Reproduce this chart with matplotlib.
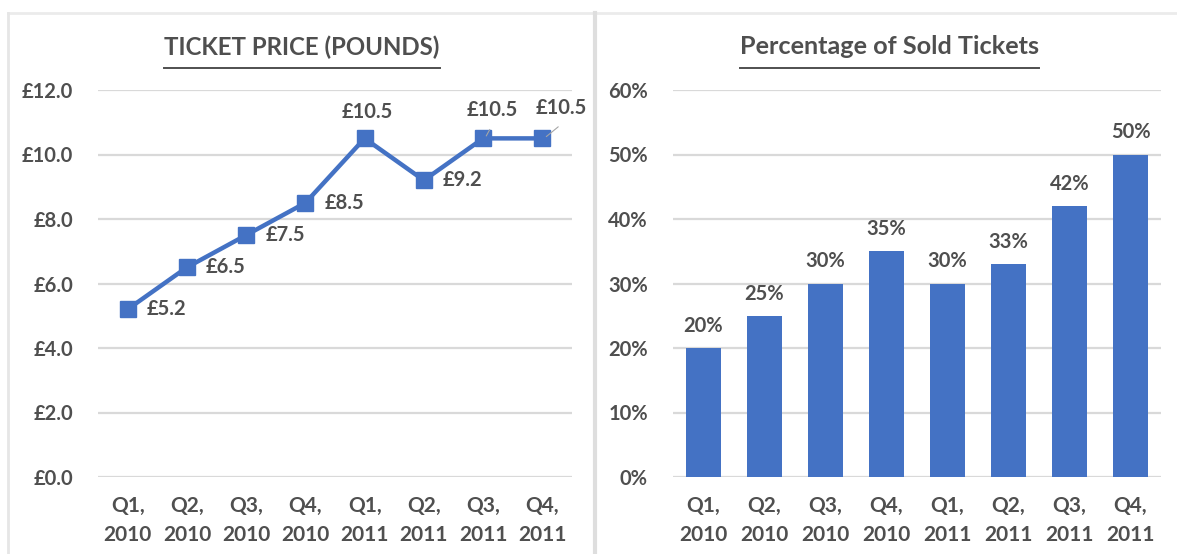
import matplotlib
matplotlib.use("Agg")
import matplotlib.pyplot as plt
from matplotlib.lines import Line2D

plt.rcParams['font.family'] = ['Lato', 'DejaVu Sans']
plt.rcParams['font.weight'] = 'bold'

# Data
quarters = ["Q1,\n2010", "Q2,\n2010", "Q3,\n2010", "Q4,\n2010",
            "Q1,\n2011", "Q2,\n2011", "Q3,\n2011", "Q4,\n2011"]
ticket_price = [5.2, 6.5, 7.5, 8.5, 10.5, 9.2, 10.5, 10.5]
sold_pct = [20, 25, 30, 35, 30, 33, 42, 50]
price_ticks = [0, 2, 4, 6, 8, 10, 12]
pct_ticks = [0, 10, 20, 30, 40, 50, 60]

BLUE = "#4472C4"
TEXT = "#4F4F4F"
GRID = "#D9D9D9"
FS = 14.5

W, H = 1177, 554
fig = plt.figure(figsize=(W / 100, H / 100), dpi=100)
fig.patch.set_facecolor("white")


def px_axes(x0, x1, ytop, ybot):
    return fig.add_axes([x0 / W, (H - ybot) / H, (x1 - x0) / W, (ybot - ytop) / H])


def style(ax):
    for s in ax.spines.values():
        s.set_visible(False)
    ax.tick_params(axis="both", length=0, labelsize=FS, labelcolor=TEXT)
    ax.tick_params(axis="y", pad=18)
    ax.tick_params(axis="x", pad=13.5, labelsize=15)
    ax.yaxis.grid(True, color=GRID, linewidth=1.6)
    ax.set_axisbelow(True)
    for lab in ax.get_xticklabels() + ax.get_yticklabels():
        lab.set_fontweight("bold")
    for lab in ax.get_xticklabels():
        lab.set_linespacing(1.6)


# Panel frames
fig.add_artist(Line2D([8 / W, 1], [1 - 13 / H] * 2, color="#EBEBEB", lw=2))
fig.add_artist(Line2D([8 / W] * 2, [0, 1 - 13 / H], color="#E6E6E6", lw=2))
fig.add_artist(Line2D([595 / W] * 2, [0, 1 - 13 / H], color="#DEDEDE", lw=3))

# Left: ticket price line chart
ax1 = px_axes(98, 572, 90, 477)
x = list(range(len(quarters)))
ax1.plot(x, ticket_price, color=BLUE, lw=3.2, marker="s", markersize=12,
         solid_joinstyle="miter")
ax1.set_xlim(-0.5, len(quarters) - 0.5)
ax1.set_ylim(0, 12)
ax1.set_yticks(price_ticks)
ax1.set_yticklabels([f"£{v:.1f}" for v in price_ticks])
ax1.set_xticks(x)
ax1.set_xticklabels(quarters)
style(ax1)

# label placement: (dx px, dy px, ha, leader)
placements = [(19, 0, "left", False), (19, 0, "left", False), (19, 0, "left", False),
              (19, 0, "left", False), (3, 26, "center", False), (19, 0, "left", False),
              (9, 28, "center", True), (19, 30, "center", True)]
for xi, v, (dx, dy, ha, leader) in zip(x, ticket_price, placements):
    ax1.annotate(f"£{v}", (xi, v), xytext=(dx * 0.72, dy * 0.72),
                 textcoords="offset points", ha=ha, va="center",
                 fontsize=FS, fontweight="bold", color=TEXT)
    if leader:
        ax1.annotate("", (xi + 0.03, v), xytext=(dx * 0.72 - 2, dy * 0.72 - 12),
                     textcoords="offset points",
                     arrowprops=dict(arrowstyle="-", color="#A6A6A6", lw=0.8))

# Right: sold tickets bar chart
ax2 = px_axes(673, 1161, 90, 477)
ax2.bar(x, sold_pct, width=0.58, color=BLUE)
ax2.set_xlim(-0.5, len(quarters) - 0.5)
ax2.set_ylim(0, 60)
ax2.set_yticks(pct_ticks)
ax2.set_yticklabels([f"{v}%" for v in pct_ticks])
ax2.set_xticks(x)
ax2.set_xticklabels(quarters)
style(ax2)
for xi, v in zip(x, sold_pct):
    ax2.annotate(f"{v}%", (xi, v), xytext=(0, 16), textcoords="offset points",
                 ha="center", va="center", fontsize=FS, fontweight="bold", color=TEXT)

# Underlined titles
titles = [("TICKET PRICE (POUNDS)", 302, 17.3), ("Percentage of Sold Tickets", 889, 18.2)]
fig.canvas.draw()
renderer = fig.canvas.get_renderer()
for txt, cx, size in titles:
    t = fig.text(cx / W, 1 - 47 / H, txt, ha="center", va="center",
                 fontsize=size, fontweight="bold", color=TEXT)
    bb = t.get_window_extent(renderer=renderer)
    uy = 1 - 68 / H
    fig.add_artist(Line2D([bb.x0 / W, bb.x1 / W], [uy, uy], color=TEXT, lw=1.4))

fig.savefig("out.png", dpi=100, facecolor="white")
